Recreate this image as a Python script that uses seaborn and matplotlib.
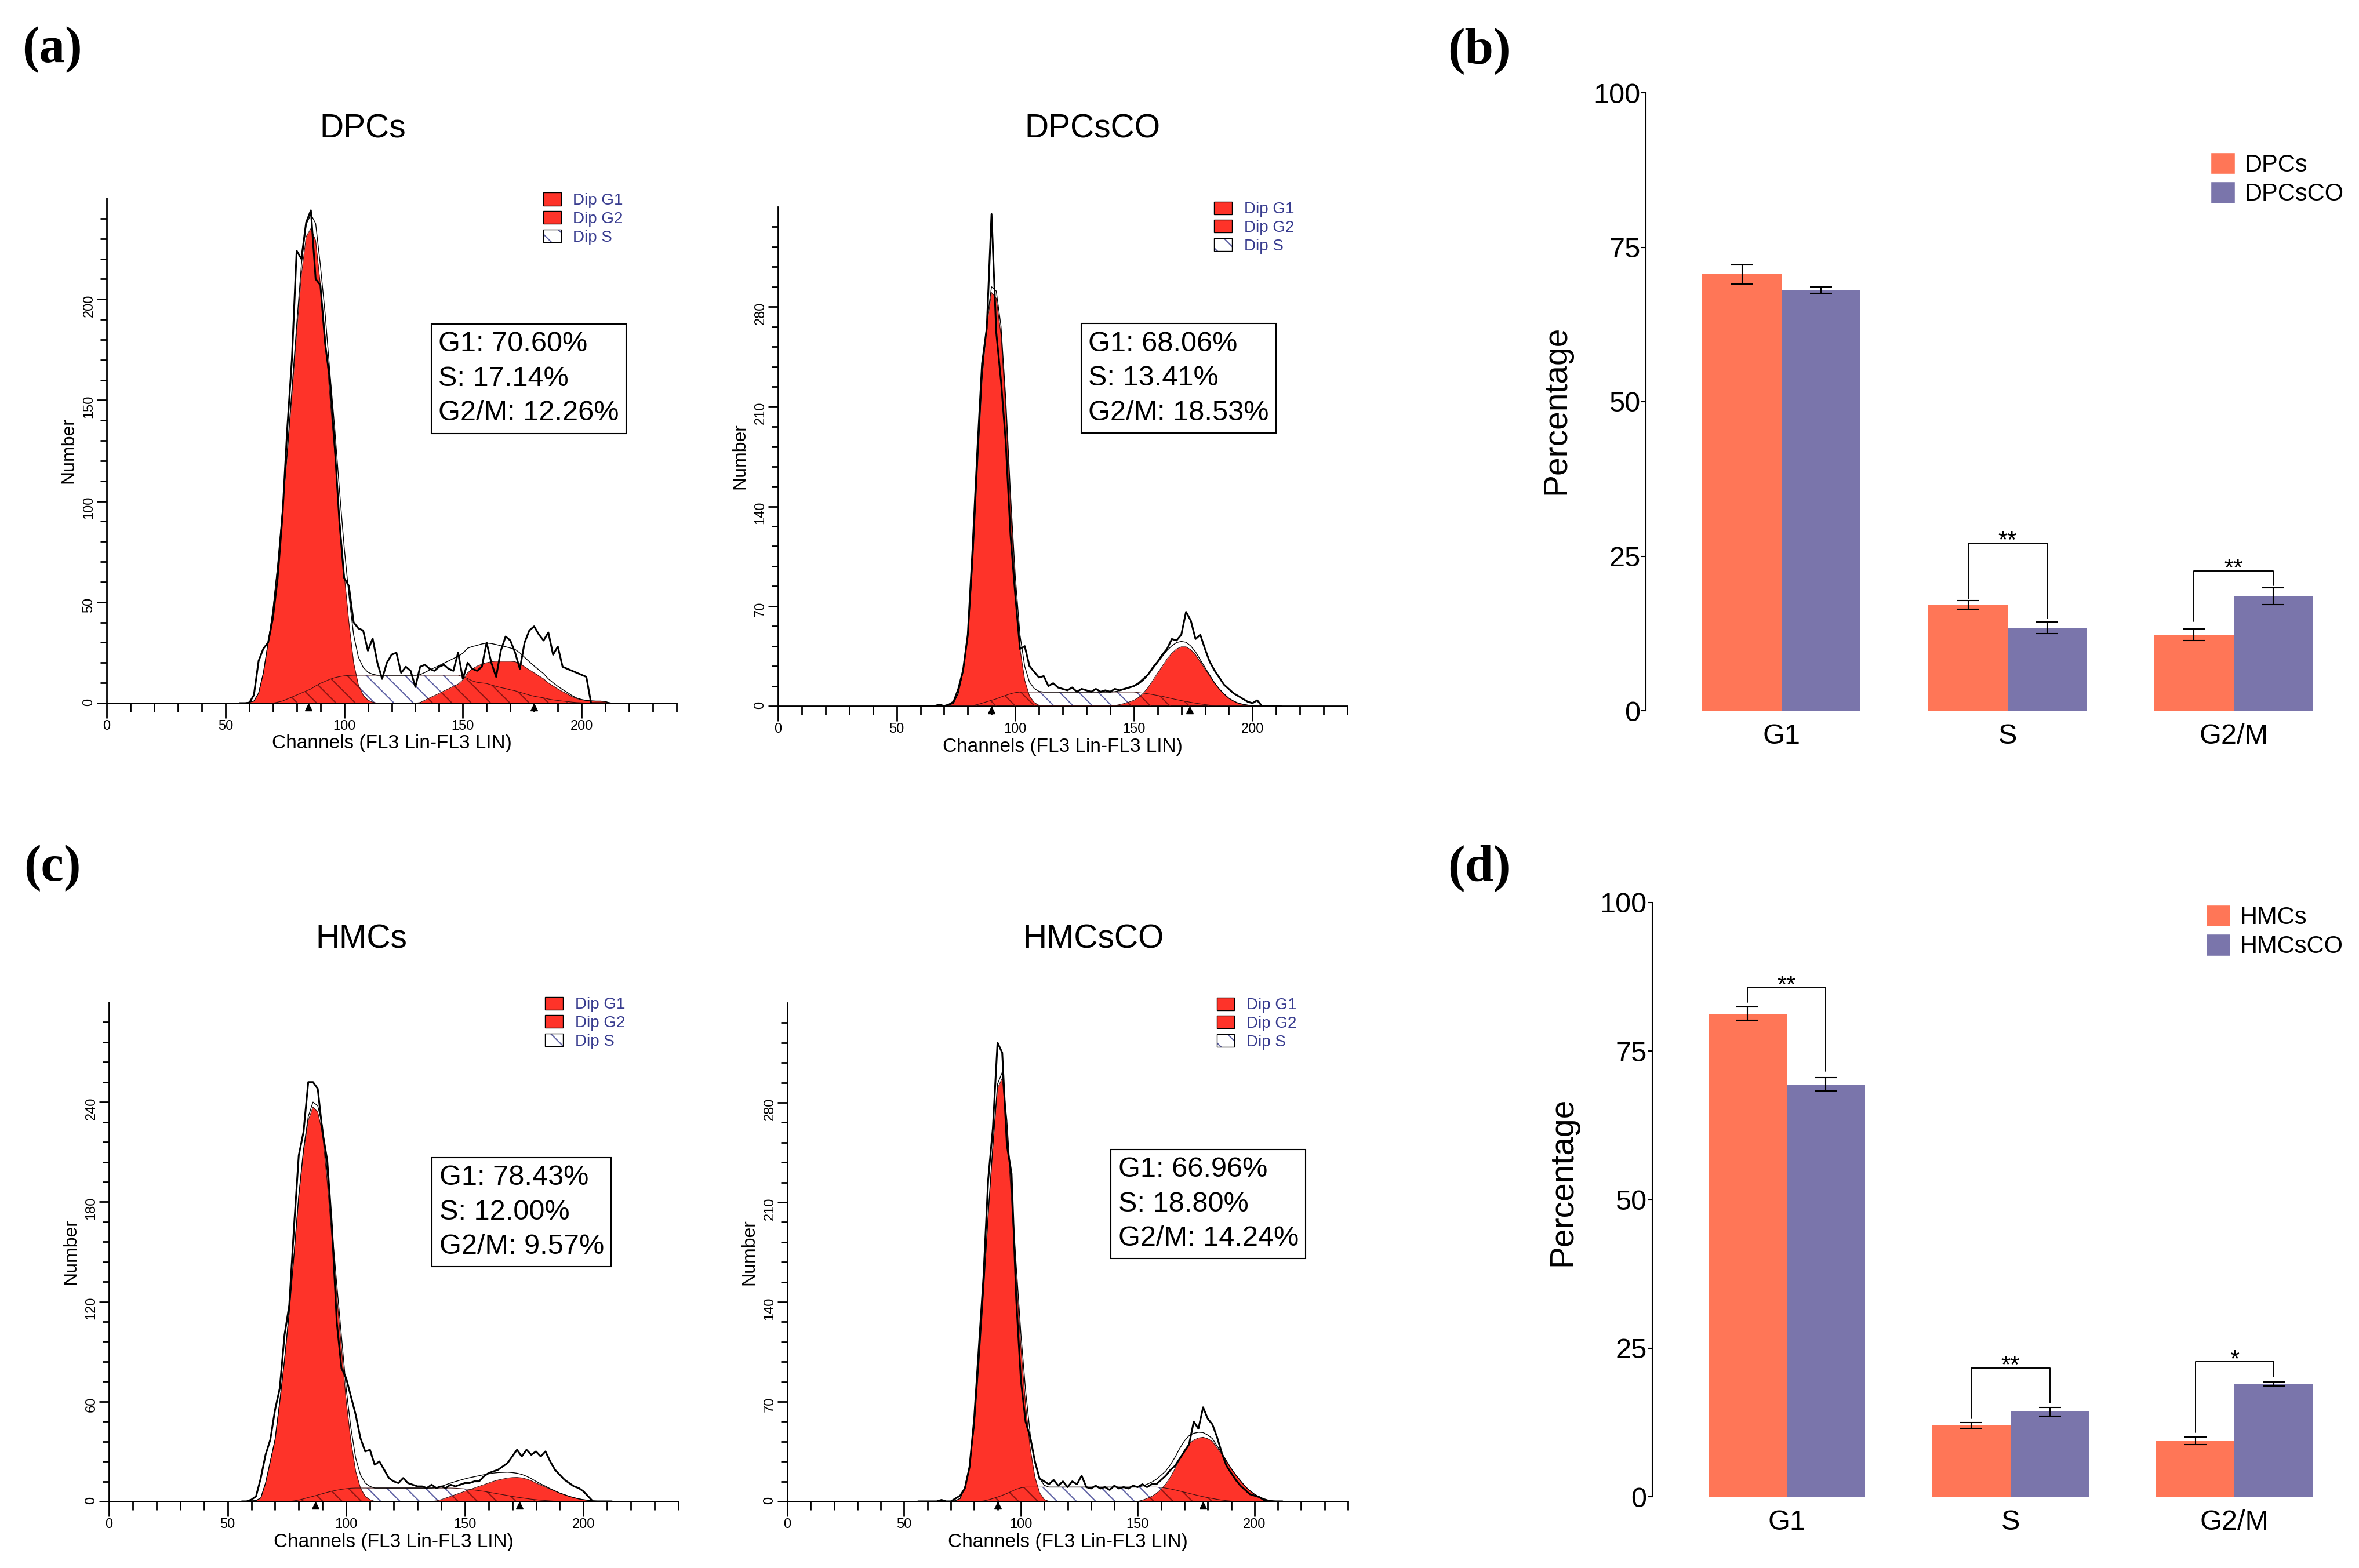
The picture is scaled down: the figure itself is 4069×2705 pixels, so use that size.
import numpy as np
import pandas as pd
import matplotlib
matplotlib.use("Agg")
import matplotlib.pyplot as plt
import matplotlib.transforms as mtransforms
from matplotlib.patches import Patch
import seaborn as sns

sns.set_theme(style="ticks")
plt.rcParams['font.family'] = ['Liberation Sans', 'DejaVu Sans']
plt.rcParams.update({'axes.edgecolor': 'black', 'text.color': 'black', 'axes.labelcolor': 'black',
                     'xtick.color': 'black', 'ytick.color': 'black', 'hatch.linewidth': 1.5})

W, H = 4069, 2705
RED = '#fe3329'
HATCH_BLUE = '#5d60a3'
HATCH_RED = '#8c1512'
LEGEND_BLUE = '#383c8f'
ORANGE = '#ff7657'
PURPLE = '#7a75ab'

# flow cytometry histograms, counts read every 2 channels from channel 56
BIN = 2
CH_START = 56

# (a) DPCs
dpcs_raw = [0, 0, 0, 4, 21, 27, 30, 42, 62, 92,
            135, 170, 224, 220, 238, 244, 210, 207, 178, 160,
            128, 90, 62, 58, 40, 37, 36, 26, 32, 20,
            12, 20, 24, 25, 15, 18, 16, 8, 18, 19,
            17, 16, 18, 19, 17, 16, 25, 12, 20, 17,
            16, 18, 30, 20, 13, 26, 33, 31, 25, 17,
            30, 36, 38, 34, 31, 35, 24, 28, 18, 17,
            16, 15, 14, 13, 0, 0, 0, 0, 0]
dpcs_g1 = (60, [0.5, 1, 5, 15, 30, 46, 68, 95, 122, 152, 183, 212, 231, 235, 229, 207, 182, 152,
                124, 93, 64, 40, 20, 9, 4, 1.5, 0.5])
dpcs_g2 = (130, [0, 0.3, 1.4, 2.6, 3.7, 4.8, 6, 7.1, 8.3, 9.4, 11.5, 15, 17, 18.3, 19.3, 20, 20.5, 20.7,
                 20.7, 20.7, 20.7, 20.5, 19.5, 18, 16.5, 15, 13.5, 12, 10, 8.5, 7, 5.7, 4.5, 3.2, 2.2,
                 1.6, 1.3, 1.1, 1, 1, 0.8])
dpcs_s = (70, [0, 0.5, 1, 2, 3, 4, 5, 6, 7, 8.5, 9.8, 10.8, 11.8, 12.6, 13.1, 13.5, 13.7] + [13.8] * 23
          + [13.2, 12.2, 11, 10.3, 10, 9.7, 9, 8.3, 7.7, 7.2, 6.6, 6.1, 5.4, 4.7, 4, 3.4, 3, 2.6, 2,
             1.6, 1.3, 1, 0.8, 0.5, 0.3, 0.2, 0])
dpcs_peaks = [85, 180]
dpcs_stats = "G1: 70.60%\nS: 17.14%\nG2/M: 12.26%"

# (a) DPCsCO
dpcsco_raw = [0, 0, 0, 0, 0, 0, 1, 0, 1, 3,
              12, 25, 50, 110, 178, 240, 265, 345, 262, 228,
              185, 120, 78, 40, 42, 28, 24, 20, 21, 14,
              16, 13, 12, 11, 13, 10, 12, 11, 10, 12,
              10, 11, 10, 12, 11, 12, 13, 14, 16, 19,
              22, 27, 31, 36, 40, 47, 46, 50, 66, 60,
              47, 50, 40, 31, 25, 20, 15, 12, 9, 7,
              5, 3, 2, 4, 0, 0, 0, 0, 0]
dpcsco_g1 = (72, [0.5, 2, 9, 24, 48, 98, 165, 228, 266, 290, 286, 260, 208, 140, 82, 40, 18, 7, 2.5, 0.5])
dpcsco_g2 = (142, [0.3, 1, 1.8, 2.8, 4, 6, 9, 13, 18, 23, 28, 33, 37, 40, 41.5, 41.5, 39.5, 36, 31, 26,
                   21, 16, 12, 8.5, 5.5, 3.5, 2, 1.2, 0.6, 0.3])
dpcsco_s = (80, [0, 0.3, 1, 2, 3, 4, 5, 6.3, 7.5, 8.6, 9.4] + [9.8] * 25
            + [9.4, 9, 8.6, 8, 7.4, 6.8, 6, 5.2, 4.5, 3.8, 3.2, 2.6, 2, 1.5, 1, 0.6, 0.3, 0])
dpcsco_peaks = [90, 173.5]
dpcsco_stats = "G1: 68.06%\nS: 13.41%\nG2/M: 18.53%"

# (c) HMCs
hmcs_raw = [0, 0, 1, 3, 14, 28, 37, 55, 68, 100,
            118, 165, 208, 222, 252, 252, 248, 222, 205, 165,
            108, 80, 74, 63, 52, 38, 30, 31, 22, 24,
            19, 14, 12, 11, 14, 11, 10, 9, 9, 8,
            10, 8, 9, 8, 10, 9, 10, 11, 11, 12,
            12, 15, 17, 18, 19, 21, 23, 27, 31, 27,
            31, 28, 30, 27, 30, 24, 19, 16, 13, 11,
            9, 8, 6, 3, 0, 0, 0, 0, 0]
hmcs_g1 = (60, [0.3, 0.5, 2, 11, 24, 37, 60, 85, 114, 148, 183, 210, 229, 237, 234, 221, 192, 158,
                124, 92, 60, 36, 18, 8, 3, 1])
hmcs_g2 = (136, [0, 0.3, 1, 2, 3, 4, 5, 6, 7, 8, 9, 10, 11, 12, 12.8, 13.4, 14, 14.3, 14.4, 14.1,
                 13.4, 12.4, 11, 9.8, 8.6, 7.3, 6.2, 5, 4, 3, 2.2, 1.5, 1, 0.6, 0.3, 0.1])
hmcs_s = (76, [0, 0.3, 0.8, 1.5, 2.3, 3, 3.8, 4.6, 5.4, 6.1, 6.7, 7.2, 7.6, 7.9] + [8] * 21
          + [7.9, 7.7, 7.5, 7.2, 6.8, 6.4, 6, 5.5, 5, 4.5, 4, 3.5, 3, 2.5, 2.1, 1.7, 1.3, 1, 0.7,
             0.5, 0.3, 0.1, 0])
hmcs_peaks = [87, 173]
hmcs_stats = "G1: 78.43%\nS: 12.00%\nG2/M: 9.57%"

# (c) HMCsCO
hmcsco_raw = [0, 0, 0, 0, 0, 1, 0, 0, 2, 4,
              9, 24, 58, 108, 158, 226, 262, 322, 315, 250,
              230, 142, 85, 56, 45, 28, 16, 14, 12, 15,
              11, 14, 10, 14, 12, 18, 10, 9, 11, 9,
              10, 8, 11, 9, 10, 9, 11, 10, 12, 10,
              12, 12, 15, 18, 22, 25, 30, 35, 40, 56,
              51, 66, 58, 54, 45, 34, 25, 20, 15, 11,
              8, 5, 4, 3, 1, 0, 0, 0, 0]
hmcsco_g1 = (72, [0.5, 2, 10, 25, 52, 97, 147, 201, 248, 290, 297, 262, 210, 157, 108, 68, 37, 17, 6, 1.3])
hmcsco_g2 = (150, [0, 0.8, 2, 3.5, 5.5, 8.5, 12, 17, 23, 30, 36, 40.5, 43, 44.5, 45, 44, 42, 37.5, 33,
                   28, 23, 18.5, 14.5, 10.5, 7.5, 5, 3.2, 1.8, 0.8, 0.3])
hmcsco_s = (82, [0, 0.3, 1, 2, 3, 4.2, 5.5, 7, 8.5, 9.5] + [10] * 29
            + [9.8, 9.3, 8.7, 8, 7.2, 6.4, 5.6, 4.8, 4, 3.3, 2.6, 2, 1.4, 0.9, 0.5, 0.2, 0])
hmcsco_peaks = [90, 178]
hmcsco_stats = "G1: 66.96%\nS: 18.80%\nG2/M: 14.24%"

# bar charts (b) and (d)
PHASES = ['G1', 'S', 'G2/M']
dpc_groups = ['DPCs', 'DPCsCO']
dpcs_pct = [70.60, 17.14, 12.26]
dpcsco_pct = [68.06, 13.41, 18.53]
dpcs_err = [1.53, 0.71, 0.93]
dpcsco_err = [0.56, 0.90, 1.38]
dpc_sig = [(1, 18.1, 27.1, 14.9, '**'), (2, 14.4, 22.6, 20.3, '**')]

hmc_groups = ['HMCs', 'HMCsCO']
hmcs_pct = [81.3, 12.0, 9.4]
hmcsco_pct = [69.4, 14.3, 19.0]
hmcs_err = [1.14, 0.53, 0.65]
hmcsco_err = [1.10, 0.72, 0.34]
hmc_sig = [(0, 83.2, 85.7, 71.6, '**'), (1, 13.2, 21.7, 15.8, '**'), (2, 10.8, 22.7, 20.2, '*')]

channels = CH_START + BIN * np.arange(len(dpcs_raw))

fig = plt.figure(figsize=(W / 100, H / 100), dpi=100)


def px_axes(l, t, r, b):
    return fig.add_axes([l / W, 1 - b / H, (r - l) / W, (b - t) / H])


def comp(start, vals):
    out = np.zeros(len(channels))
    i = (start - CH_START) // BIN
    out[i:i + len(vals)] = vals
    return out


def draw_hist(ax, raw, g1, g2, s, ymax, ystep, peaks, stats, stats_xy):
    g1, g2, s = comp(*g1), comp(*g2), comp(*s)
    red_top = np.maximum(g1, g2)
    ax.fill_between(channels, 0, s, facecolor='white', edgecolor=HATCH_BLUE, hatch='\\', linewidth=0, zorder=1)
    ax.fill_between(channels, 0, g1, facecolor=RED, linewidth=0, zorder=2)
    ax.fill_between(channels, 0, g2, facecolor=RED, linewidth=0, zorder=2)
    ax.fill_between(channels, 0, np.minimum(s, red_top), facecolor='none', edgecolor=HATCH_RED,
                    hatch='\\', linewidth=0, zorder=3)
    for c in (g1, g2, s):
        ax.plot(channels, c, color='#401010', lw=0.8, zorder=3.5)
    ax.plot(channels, g1 + g2 + s, color='black', lw=1.0, zorder=4)
    sns.lineplot(x=channels, y=raw, ax=ax, color='black', lw=2.2, zorder=5)

    ax.set_xlim(0, 240)
    ax.set_ylim(0, ymax)
    ax.set_xticks(np.arange(0, 201, 50))
    ax.set_xticks(np.arange(0, 241, 10), minor=True)
    ax.set_yticks(np.arange(0, ymax, ystep))
    ax.set_yticks(np.arange(0, ymax, ystep / 5), minor=True)
    sns.despine(ax=ax)
    for sp in ('left', 'bottom'):
        ax.spines[sp].set_linewidth(2)
    ax.tick_params(axis='x', which='major', length=19, width=2, pad=2, labelsize=17)
    ax.tick_params(axis='x', which='minor', length=11, width=2)
    ax.tick_params(axis='y', which='major', length=12, width=2, pad=2, labelsize=17, labelrotation=90)
    ax.tick_params(axis='y', which='minor', length=8, width=2)

    bb = ax.get_position()
    axw, axh = bb.width * W, bb.height * H
    ax.set_ylabel('Number', fontsize=23)
    ax.yaxis.label.set_va('center')
    ax.yaxis.set_label_coords(-66 / axw, 0.5)
    ax.set_xlabel('Channels (FL3 Lin-FL3 LIN)', fontsize=24)
    ax.xaxis.label.set_va('center')
    ax.xaxis.set_label_coords(0.5, -70 / axh)

    trans = mtransforms.offset_copy(ax.transData, fig=fig, y=-7, units='dots')
    ax.plot(peaks, [0] * len(peaks), ls='none', marker='^', ms=9, color='black',
            transform=trans, clip_on=False, zorder=6)

    ax.text(stats_xy[0], stats_xy[1], stats, transform=ax.transAxes, fontsize=35, ha='left', va='top',
            linespacing=1.42, zorder=7,
            bbox=dict(boxstyle='square,pad=0.25', facecolor='white', edgecolor='black', linewidth=1.5))

    handles = [Patch(facecolor=RED, edgecolor='black', linewidth=1),
               Patch(facecolor=RED, edgecolor='black', linewidth=1),
               (Patch(facecolor='white', edgecolor=HATCH_BLUE, hatch='\\', linewidth=0),
                Patch(facecolor='none', edgecolor='black', linewidth=1))]
    ax.legend(handles=handles, labels=['Dip G1', 'Dip G2', 'Dip S'], loc='upper left',
              bbox_to_anchor=(0.766, 1.011), frameon=False, fontsize=20, labelcolor=LEGEND_BLUE,
              handlelength=1.1, handleheight=0.85, handletextpad=0.75, labelspacing=0.18,
              borderpad=0, borderaxespad=0)


def draw_bars(ax, groups, v1, v2, e1, e2, sig, legend_xy, ylab_y):
    df = pd.DataFrame({'phase': PHASES * 2, 'pct': v1 + v2,
                       'group': [groups[0]] * 3 + [groups[1]] * 3})
    sns.barplot(data=df, x='phase', y='pct', hue='group', hue_order=groups, order=PHASES,
                palette=[ORANGE, PURPLE], width=0.7, saturation=1, errorbar=None,
                linewidth=0, legend=False, ax=ax)
    xs = []
    for cont, err in zip(ax.containers, (e1, e2)):
        cx = [b.get_x() + b.get_width() / 2 for b in cont]
        hs = [b.get_height() for b in cont]
        ax.errorbar(cx, hs, yerr=err, fmt='none', ecolor='black', elinewidth=1.5,
                    capsize=14, capthick=1.5)
        xs.append(cx)
    for idx, y_l, y_top, y_r, label in sig:
        xl, xr = xs[0][idx], xs[1][idx]
        ax.plot([xl, xl, xr, xr], [y_l, y_top, y_top, y_r], color='black', lw=1.4)
        ax.annotate(label, ((xl + xr) / 2, y_top), xytext=(0, -6), textcoords='offset points',
                    ha='center', va='baseline', fontsize=30)

    ax.set_xlim(-0.6, 2.45)
    ax.set_ylim(0, 100)
    ax.set_yticks([0, 25, 50, 75, 100])
    sns.despine(ax=ax, bottom=True)
    ax.spines['left'].set_linewidth(1.5)
    ax.tick_params(axis='y', length=6, width=1.5, pad=1, labelsize=35)
    ax.tick_params(axis='x', length=0, pad=16, labelsize=35)
    ax.set_xlabel('')
    ax.set_ylabel('Percentage', fontsize=41)
    ax.yaxis.label.set_va('center')
    bb = ax.get_position()
    ax.yaxis.set_label_coords(-155 / (bb.width * W), ylab_y)

    ax.legend(handles=[Patch(facecolor=ORANGE), Patch(facecolor=PURPLE)], labels=groups,
              loc='upper left', bbox_to_anchor=(legend_xy[0] / W, 1 - legend_xy[1] / H),
              bbox_transform=fig.transFigure, frameon=False, fontsize=30,
              handlelength=1.0, handleheight=1.0, handletextpad=0.4, labelspacing=0.2,
              borderpad=0, borderaxespad=0)


ax_a1 = px_axes(184, 342, 1167, 1213)
ax_a2 = px_axes(1342, 357, 2324, 1218)
ax_c1 = px_axes(188, 1729, 1170, 2590)
ax_c2 = px_axes(1358, 1730, 2325, 2590)
ax_b = px_axes(2839, 160, 4028, 1226)
ax_d = px_axes(2850, 1557, 4028, 2582)

draw_hist(ax_a1, dpcs_raw, dpcs_g1, dpcs_g2, dpcs_s, 250, 50, dpcs_peaks, dpcs_stats, (0.582, 0.737))
draw_hist(ax_a2, dpcsco_raw, dpcsco_g1, dpcsco_g2, dpcsco_s, 350, 70, dpcsco_peaks, dpcsco_stats, (0.545, 0.752))
draw_hist(ax_c1, hmcs_raw, hmcs_g1, hmcs_g2, hmcs_s, 300, 60, hmcs_peaks, hmcs_stats, (0.580, 0.675))
draw_hist(ax_c2, hmcsco_raw, hmcsco_g1, hmcsco_g2, hmcsco_s, 350, 70, hmcsco_peaks, hmcsco_stats, (0.590, 0.692))

draw_bars(ax_b, dpc_groups, dpcs_pct, dpcsco_pct, dpcs_err, dpcsco_err, dpc_sig, (3813, 263), 0.487)
draw_bars(ax_d, hmc_groups, hmcs_pct, hmcsco_pct, hmcs_err, hmcsco_err, hmc_sig, (3805, 1561), 0.53)

for txt, x, y in [('DPCs', 626, 222), ('DPCsCO', 1884, 222), ('HMCs', 623, 1620), ('HMCsCO', 1886, 1620)]:
    fig.text(x / W, 1 - y / H, txt, fontsize=41, ha='center', va='center')

for txt, x, y in [('(a)', 90, 86), ('(b)', 2551, 88), ('(c)', 90, 1498), ('(d)', 2551, 1498)]:
    fig.text(x / W, 1 - y / H, txt, fontsize=64, fontweight='bold', family='Liberation Serif',
             ha='center', va='center')

fig.savefig('out.png', dpi=100, facecolor='white')
